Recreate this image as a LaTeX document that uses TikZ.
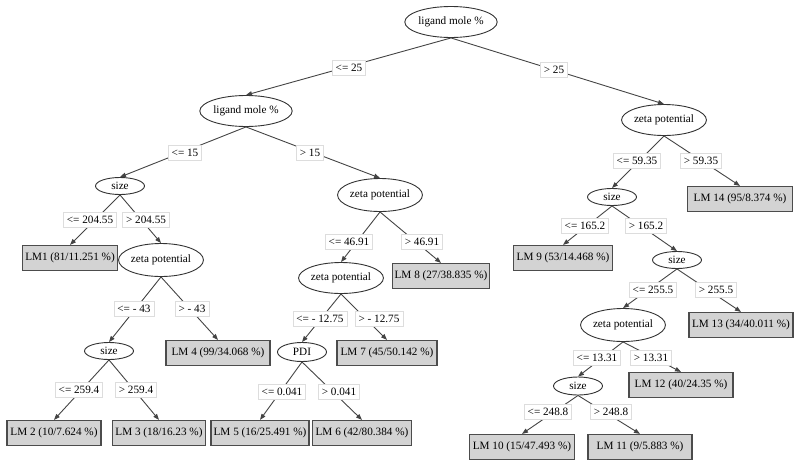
\documentclass[tikz,border=0pt]{standalone}
\usepackage{fontspec}
\setmainfont{Liberation Serif}
\usetikzlibrary{shapes.geometric,arrows.meta}

\definecolor{edgegray}{HTML}{444444}
\definecolor{leafgray}{HTML}{D3D3D3}
\definecolor{condgray}{HTML}{DDDDDD}

\tikzset{
    attr/.style={ellipse, draw=black!80, line width=0.9pt, inner sep=0pt, minimum height=31pt},
    leaf/.style={rectangle, draw=black!70, fill=leafgray, line width=1.2pt, minimum height=25pt, inner xsep=1.5pt},
    cond/.style={rectangle, draw=condgray, fill=white, line width=0.8pt, minimum height=15pt, inner xsep=3.5pt, inner ysep=1pt},
    edge/.style={draw=edgegray, line width=0.9pt, -{Triangle[length=6pt,width=4.5pt]}}
}

\begin{document}
\begin{tikzpicture}[x=1pt, y=-1pt, font=\fontsize{11.2}{13}\selectfont]
    \useasboundingbox (0,0) rectangle (800,466);

    % attribute nodes
    \node[attr, minimum width=83pt] (root) at (451,22) {ligand mole \%};
    \node[attr, minimum width=83pt] (lig2) at (246,111) {ligand mole \%};
    \node[attr, minimum width=49pt, minimum height=17pt] (size1) at (120,186) {size};
    \node[attr, minimum width=82pt, minimum height=33pt] (zeta1) at (161,260) {zeta potential};
    \node[attr, minimum width=49pt, minimum height=17pt] (size2) at (109,351) {size};
    \node[attr, minimum width=82pt, minimum height=33pt] (zeta2) at (380,195) {zeta potential};
    \node[attr, minimum width=82pt, minimum height=31pt] (zeta3) at (341,278) {zeta potential};
    \node[attr, minimum width=49pt, minimum height=19pt] (pdi) at (302,352) {PDI};
    \node[attr, minimum width=82pt, minimum height=31pt] (zeta4) at (664,120) {zeta potential};
    \node[attr, minimum width=49pt, minimum height=17pt] (size3) at (612,197) {size};
    \node[attr, minimum width=49pt, minimum height=17pt] (size4) at (677,260) {size};
    \node[attr, minimum width=80pt, minimum height=33pt] (zeta5) at (623,325) {zeta potential};
    \node[attr, minimum width=49pt, minimum height=18pt] (size5) at (578,386) {size};

    % leaves
    \node[leaf, minimum width=95pt] (lm1) at (70,258) {LM1 (81/11.251 \%)};
    \node[leaf, minimum width=94pt] (lm2) at (54,433) {LM 2 (10/7.624 \%)};
    \node[leaf, minimum width=93pt] (lm3) at (159,433) {LM 3 (18/16.23 \%)};
    \node[leaf, minimum width=104pt] (lm4) at (218,353) {LM 4 (99/34.068 \%)};
    \node[leaf, minimum width=98pt] (lm5) at (260,433) {LM 5 (16/25.491 \%)};
    \node[leaf, minimum width=99pt] (lm6) at (362,433) {LM 6 (42/80.384 \%)};
    \node[leaf, minimum width=100pt] (lm7) at (387,353) {LM 7 (45/50.142 \%)};
    \node[leaf, minimum width=97pt] (lm8) at (441,276) {LM 8 (27/38.835 \%)};
    \node[leaf, minimum width=99pt] (lm9) at (563,258) {LM 9 (53/14.468 \%)};
    \node[leaf, minimum width=105pt] (lm10) at (522,447) {LM 10 (15/47.493 \%)};
    \node[leaf, minimum width=104pt] (lm11) at (640,447) {LM 11 (9/5.883 \%)};
    \node[leaf, minimum width=104pt] (lm12) at (681,385) {LM 12 (40/24.35 \%)};
    \node[leaf, minimum width=104pt] (lm13) at (741,325) {LM 13 (34/40.011 \%)};
    \node[leaf, minimum width=105pt] (lm14) at (740,199) {LM 14 (95/8.374 \%)};

    % edges
    \draw[edge] (root.south) -- (lig2.north);
    \draw[edge] (root.south) -- (zeta4.north);
    \draw[edge] (lig2.south) -- (size1.north);
    \draw[edge] (lig2.south) -- (zeta2.north);
    \draw[edge] (size1.south) -- (lm1.north);
    \draw[edge] (size1.south) -- (zeta1.north);
    \draw[edge] (zeta1.south) -- (size2.north);
    \draw[edge] (zeta1.south) -- (lm4.north);
    \draw[edge] (size2.south) -- (lm2.north);
    \draw[edge] (size2.south) -- (lm3.north);
    \draw[edge] (zeta2.south) -- (zeta3.north);
    \draw[edge] (zeta2.south) -- (lm8.north);
    \draw[edge] (zeta3.south) -- (pdi.north);
    \draw[edge] (zeta3.south) -- (lm7.north);
    \draw[edge] (pdi.south) -- (lm5.north);
    \draw[edge] (pdi.south) -- (lm6.north);
    \draw[edge] (zeta4.south) -- (size3.north);
    \draw[edge] (zeta4.south) -- (lm14.north);
    \draw[edge] (size3.south) -- (lm9.north);
    \draw[edge] (size3.south) -- (size4.north);
    \draw[edge] (size4.south) -- (zeta5.north);
    \draw[edge] (size4.south) -- (lm13.north);
    \draw[edge] (zeta5.south) -- (size5.north);
    \draw[edge] (zeta5.south) -- (lm12.north);
    \draw[edge] (size5.south) -- (lm10.north);
    \draw[edge] (size5.south) -- (lm11.north);

    % split conditions
    \node[cond] (le25) at (349,68) {<= 25};
    \node[cond] (gt25) at (554,70) {> 25};
    \node[cond] (le15) at (185,153) {<= 15};
    \node[cond] (gt15) at (310,153) {> 15};
    \node[cond] (le20455) at (90,220) {<= 204.55};
    \node[cond] (gt20455) at (146,220) {> 204.55};
    \node[cond] (le43) at (134,309) {<= - 43};
    \node[cond] (gt43) at (192,309) {> - 43};
    \node[cond] (le2594) at (79,390) {<= 259.4};
    \node[cond] (gt2594) at (136,390) {> 259.4};
    \node[cond] (le4691) at (349,242) {<= 46.91};
    \node[cond] (gt4691) at (422,242) {> 46.91};
    \node[cond] (le1275) at (320,319) {<= - 12.75};
    \node[cond] (gt1275) at (379,319) {> - 12.75};
    \node[cond] (le0041) at (282,392) {<= 0.041};
    \node[cond] (gt0041) at (339,392) {> 0.041};
    \node[cond] (le5935) at (637,161) {<= 59.35};
    \node[cond] (gt5935) at (701,161) {> 59.35};
    \node[cond] (le1652) at (585,226) {<= 165.2};
    \node[cond] (gt1652) at (646,226) {> 165.2};
    \node[cond] (le2555) at (653,290) {<= 255.5};
    \node[cond] (gt2555) at (716,290) {> 255.5};
    \node[cond] (le1331) at (597,358) {<= 13.31};
    \node[cond] (gt1331) at (651,358) {> 13.31};
    \node[cond] (le2488) at (548,412) {<= 248.8};
    \node[cond] (gt2488) at (611,412) {> 248.8};
\end{tikzpicture}
\end{document}
